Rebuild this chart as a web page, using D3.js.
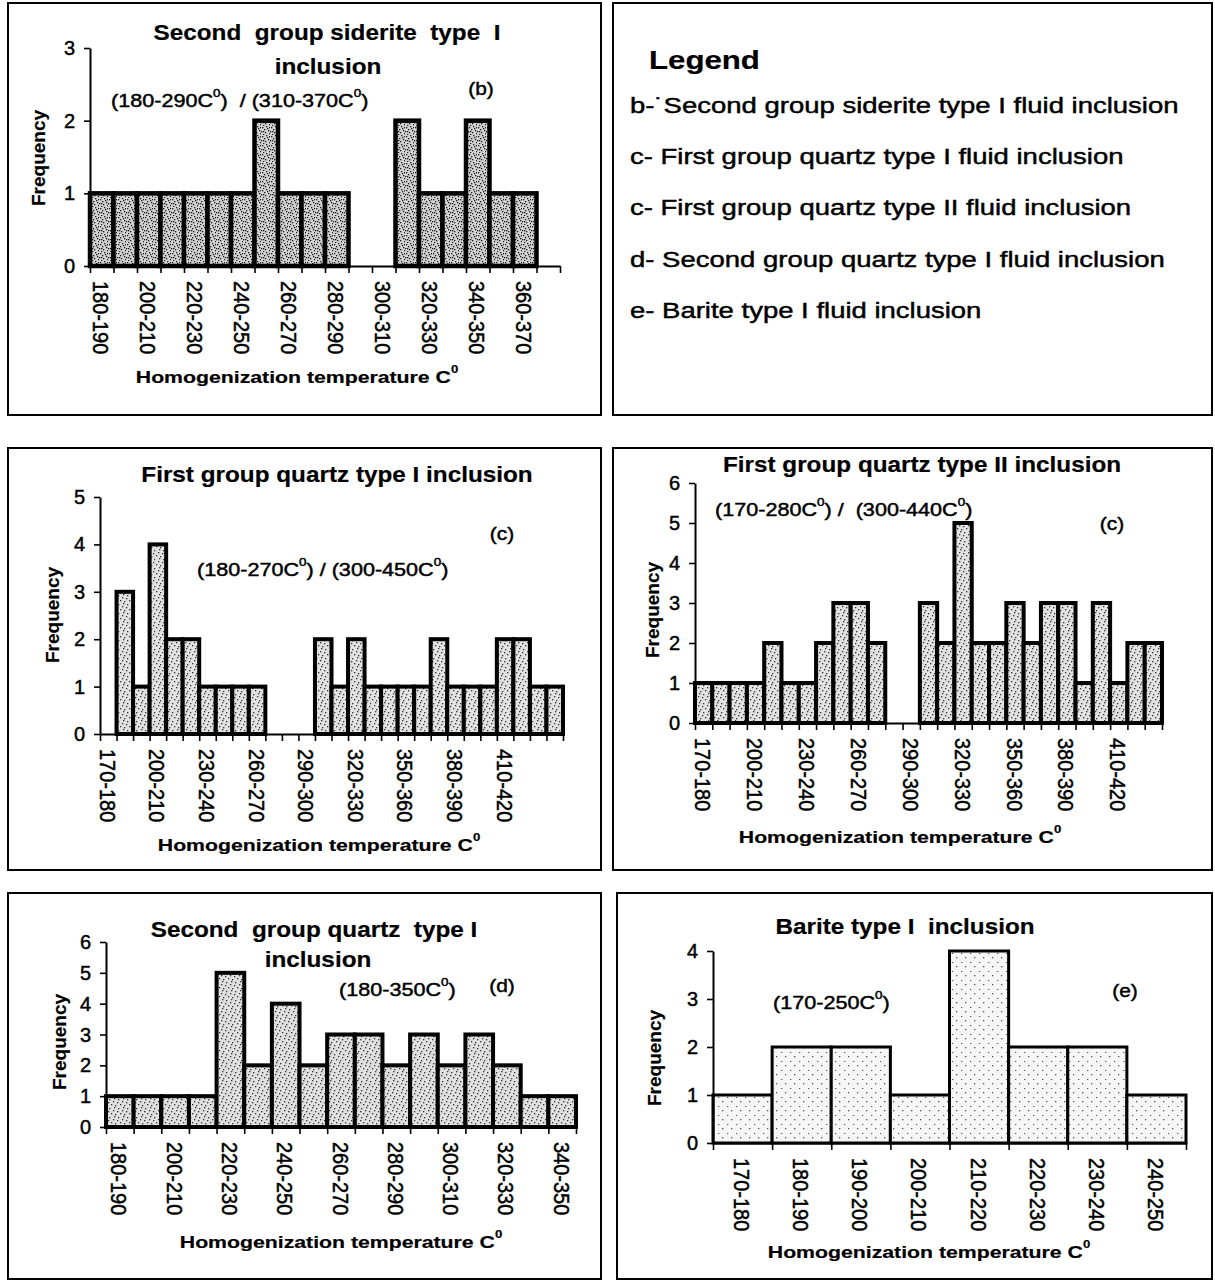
<!DOCTYPE html>
<html><head><meta charset="utf-8">
<script src="https://cdn.jsdelivr.net/npm/d3@7"></script>
<style>
body{margin:0;background:#fff}
text{font-family:"Liberation Sans",Arial,sans-serif;fill:#000}
</style>
</head><body>
<svg id="c" width="1215" height="1281"></svg>
<script>
// ---------------- DATA ----------------
const catsB = ["180-190","190-200","200-210","210-220","220-230","230-240","240-250","250-260","260-270","270-280","280-290","290-300","300-310","310-320","320-330","330-340","340-350","350-360","360-370","370-380"];
const valsB = [1,1,1,1,1,1,1,2,1,1,1,0,0,2,1,1,2,1,1,0];
const tickLabelsB = ["180-190","200-210","220-230","240-250","260-270","280-290","300-310","320-330","340-350","360-370"];

const catsC1 = ["170-180","180-190","190-200","200-210","210-220","220-230","230-240","240-250","250-260","260-270","270-280","280-290","290-300","300-310","310-320","320-330","330-340","340-350","350-360","360-370","370-380","380-390","390-400","400-410","410-420","420-430","430-440","440-450"];
const valsC1 = [0,3,1,4,2,2,1,1,1,1,0,0,0,2,1,2,1,1,1,1,2,1,1,1,2,2,1,1];
const tickLabelsC1 = ["170-180","200-210","230-240","260-270","290-300","320-330","350-360","380-390","410-420"];

const catsC2 = ["170-180","180-190","190-200","200-210","210-220","220-230","230-240","240-250","250-260","260-270","270-280","280-290","290-300","300-310","310-320","320-330","330-340","340-350","350-360","360-370","370-380","380-390","390-400","400-410","410-420","420-430","430-440"];
const valsC2 = [1,1,1,1,2,1,1,2,3,3,2,0,0,3,2,5,2,2,3,2,3,3,1,3,1,2,2];
const tickLabelsC2 = ["170-180","200-210","230-240","260-270","290-300","320-330","350-360","380-390","410-420"];

const catsD = ["180-190","190-200","200-210","210-220","220-230","230-240","240-250","250-260","260-270","270-280","280-290","290-300","300-310","310-320","320-330","330-340","340-350"];
const valsD = [1,1,1,1,5,2,4,2,3,3,2,3,2,3,2,1,1];
const tickLabelsD = ["180-190","200-210","220-230","240-250","260-270","280-290","300-310","320-330","340-350"];

const catsE = ["170-180","180-190","190-200","200-210","210-220","220-230","230-240","240-250"];
const valsE = [1,2,2,1,4,2,2,1];
const tickLabelsE = catsE.slice();

const yMaxB = 3, yMaxC1 = 5, yMaxC2 = 6, yMaxD = 6, yMaxE = 4;

const titlesB = ["Second  group siderite  type  I", "inclusion"];
const titlesC1 = ["First group quartz type I inclusion"];
const titlesC2 = ["First group quartz type II inclusion"];
const titlesD = ["Second  group quartz  type I", "inclusion"];
const titlesE = ["Barite type I  inclusion"];
const rangesB = "(180-290C^0)  / (310-370C^0)";
const rangesC1 = "(180-270C^0) / (300-450C^0)";
const rangesC2 = "(170-280C^0) /  (300-440C^0)";
const rangesD = "(180-350C^0)";
const rangesE = "(170-250C^0)";
const tags = ["(b)", "(c)", "(c)", "(d)", "(e)"];
const yTitle = "Frequency";
const xTitle = "Homogenization temperature C^0";
const legendTitle = "Legend";
const legendItems = [
  "b-\u02D9Second group siderite type I fluid inclusion",
  "c- First group quartz type I fluid inclusion",
  "c- First group quartz type II fluid inclusion",
  "d- Second group quartz type I fluid inclusion",
  "e- Barite type I fluid inclusion"
];

// ---------------- DRAWING ----------------
const svg = d3.select("#c");
const defs = svg.append("defs");
function pattern(id, bg, dots, col) {
  const p = defs.append("pattern").attr("id", id).attr("patternUnits","userSpaceOnUse").attr("width",9).attr("height",9);
  p.append("rect").attr("width",9).attr("height",9).attr("fill",bg);
  dots.forEach(([x,y]) => p.append("rect").attr("x",x).attr("y",y).attr("width",1.3).attr("height",1.3).attr("fill",col));
}
const DENSE = [[1,1],[5,0],[3,3],[7,4],[0,5],[4,6],[8,7],[2,8],[6,2],[8,1],[2,5]];
const MED = [[1,1],[5,3],[3,6],[7,7],[0,4],[6,0]];
const SPARSE = [[2,3],[7,8]];
pattern("pB", "#d2d2d2", DENSE, "#1a1a1a");
pattern("pC", "#e2e2e2", MED, "#333");
pattern("pD", "#e0e0e0", MED, "#333");
pattern("pE", "#f6f6f6", SPARSE, "#555");

function label(g, x, y, str, o) {
  const size = o.size;
  const t = g.append("text")
    .attr("transform", `translate(${x},${y}) scale(${o.sx||1},1)` + (o.rot ? ` rotate(${o.rot})` : ""))
    .attr("text-anchor", o.anchor || "middle")
    .attr("dominant-baseline", "central")
    .style("font-size", size + "px")
    .style("font-weight", o.bold ? "bold" : "normal")
    .style("stroke", "#000")
    .style("stroke-width", o.bold ? 0.2 : 0.45);
  const parts = str.replace(/  /g, " \u00a0").split("^");
  const shift = size * 0.42;
  parts.forEach((p, i) => {
    if (i === 0) { t.append("tspan").text(p); return; }
    t.append("tspan").attr("dy", -shift).style("font-size", (size*0.62)+"px").text(p[0]);
    t.append("tspan").attr("dy", shift).text(p.slice(1));
  });
  return t;
}

function box(x, y, w, h) {
  svg.append("rect").attr("x",x).attr("y",y).attr("width",w).attr("height",h)
    .attr("fill","none").attr("stroke","#000").attr("stroke-width",2);
}

function panel(cfg, cats, vals, ymax, tickLabels, titles, ranges, tag) {
  const g = svg.append("g");
  const x = d3.scaleBand().domain(cats).range([cfg.x0, cfg.x1]).padding(0);
  const xi = d3.scaleLinear().domain([0, cats.length]).range([cfg.x0, cfg.x1]);
  const y = d3.scaleLinear().domain([0, ymax]).range([cfg.y0, cfg.yTop]);
  const data = cats.map((c, i) => ({c, v: vals[i]})).filter(d => d.v > 0);
  g.selectAll("rect.bar").data(data).join("rect").attr("class","bar")
    .attr("x", d => x(d.c)).attr("y", d => y(d.v))
    .attr("width", x.bandwidth()).attr("height", d => y(0) - y(d.v))
    .attr("fill", `url(#${cfg.pat})`).attr("stroke", "#000")
    .attr("stroke-width", cfg.sw).attr("stroke-linejoin","miter");
  const ya = g.append("g").attr("transform", `translate(${cfg.x0},0)`)
    .call(d3.axisLeft(y).ticks(ymax).tickSizeInner(6).tickSizeOuter(0).tickFormat(""));
  const xa = g.append("g").attr("transform", `translate(0,${cfg.y0})`)
    .call(d3.axisBottom(xi).tickValues(d3.range(cats.length + 1)).tickSizeInner(7).tickSizeOuter(0).tickFormat(""));
  [ya, xa].forEach(a => { a.select(".domain").attr("stroke-width", 2); a.selectAll(".tick line").attr("stroke-width", 1.6); });
  y.ticks(ymax).forEach(v => label(g, cfg.x0 - 15, y(v), d3.format("d")(v), {size: 20, anchor: "end"}));
  tickLabels.forEach(c => {
    label(g, x(c) + x.bandwidth()/2, cfg.y0 + 15, c, {size: 20, rot: 90, anchor: "start", sx: 1.12});
  });
  titles.forEach((t, i) => label(g, cfg.tx[i], cfg.ty[i], t, {size: 21.5, bold: true, sx: 1.13}));
  label(g, cfg.sx0, cfg.sy, ranges, {size: 18, anchor: "start", sx: 1.2});
  label(g, cfg.gx, cfg.gy, tag, {size: 19, sx: 1.1});
  label(g, cfg.fx, cfg.fy, yTitle, {size: 19, bold: true, rot: -90});
  label(g, cfg.hx, cfg.hy, xTitle, {size: 17, bold: true, sx: 1.25});
}

// boxes
box(8, 3, 593, 412);
box(613, 3, 599, 412);
box(8, 448, 593, 422);
box(613, 448, 599, 422);
box(8, 893, 593, 386);
box(617, 893, 595, 386);

panel({x0:90, x1:560, y0:266, yTop:48, pat:"pB", sw:4.5,
       tx:[327,328], ty:[33,67], sx0:111, sy:101, gx:481, gy:88, fx:38, fy:158, hx:297, hy:377},
      catsB, valsB, yMaxB, tickLabelsB, titlesB, rangesB, tags[0]);
panel({x0:100, x1:563, y0:734, yTop:497, pat:"pC", sw:4,
       tx:[337], ty:[475], sx0:197, sy:570, gx:502, gy:533, fx:52, fy:615, hx:319, hy:845},
      catsC1, valsC1, yMaxC1, tickLabelsC1, titlesC1, rangesC1, tags[1]);
panel({x0:695, x1:1162, y0:723, yTop:483, pat:"pC", sw:4,
       tx:[922], ty:[465], sx0:715, sy:510, gx:1112, gy:523, fx:652, fy:610, hx:900, hy:837},
      catsC2, valsC2, yMaxC2, tickLabelsC2, titlesC2, rangesC2, tags[2]);
panel({x0:106, x1:576, y0:1127, yTop:942, pat:"pD", sw:4,
       tx:[314,318], ty:[930,960], sx0:339, sy:990, gx:502, gy:985, fx:59, fy:1042, hx:341, hy:1242},
      catsD, valsD, yMaxD, tickLabelsD, titlesD, rangesD, tags[3]);
panel({x0:713, x1:1186, y0:1143, yTop:951, pat:"pE", sw:3,
       tx:[905], ty:[927], sx0:773, sy:1003, gx:1125, gy:990, fx:654, fy:1058, hx:929, hy:1252},
      catsE, valsE, yMaxE, tickLabelsE, titlesE, rangesE, tags[4]);

// legend
const lg = svg.append("g");
label(lg, 649, 60, legendTitle, {size: 26, bold: true, anchor: "start", sx: 1.2});
const legY = d3.scalePoint().domain(legendItems).range([105, 310]);
legendItems.forEach(t => label(lg, 630, legY(t), t, {size: 22, anchor: "start", sx: 1.25}));
</script>
</body></html>
